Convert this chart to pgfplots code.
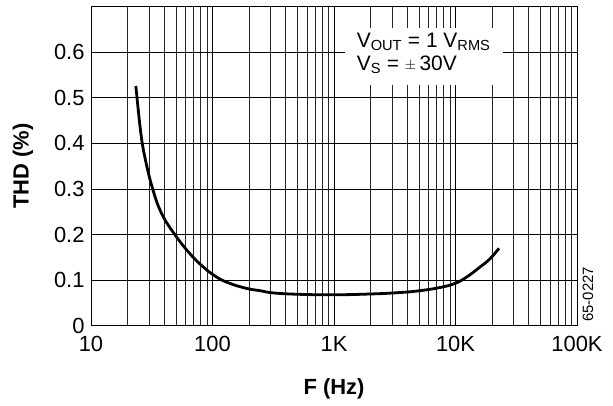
\documentclass[border=0pt]{standalone}
\usepackage{pgfplots}
\pgfplotsset{compat=1.18}
\usepackage{fontspec}
\setmainfont{Liberation Sans}

\begin{document}
\begin{tikzpicture}
\useasboundingbox (0,0) rectangle (613bp,406bp);
\begin{axis}[
    scale only axis,
    width=486bp, height=319.1bp,
    at={(91bp,80.2bp)}, anchor=south west,
    xmode=log,
    xmin=10, xmax=100000,
    ymin=0, ymax=0.7,
    xtick={10,100,1000,10000,100000},
    xticklabels={10,100,1K,10K,100K},
    ytick={0,0.1,0.2,0.3,0.4,0.5,0.6},
    yticklabels={0,0.1,0.2,0.3,0.4,0.5,0.6},
    major tick length=0pt, minor tick length=0pt,
    grid=both,
    major grid style={black, line width=0.8bp},
    minor grid style={black!85, line width=0.8bp},
    axis line style={black, line width=1bp},
    tick label style={font=\fontsize{22}{24}\selectfont},
    /pgf/number format/assume math mode=true,
    xticklabel style={yshift=-7bp},
    yticklabel style={xshift=-3bp},
    xlabel={\bfseries F (Hz)},
    ylabel={\bfseries THD (\%)},
    label style={font=\fontsize{22}{24}\selectfont},
    xlabel style={yshift=-20bp},
    ylabel style={yshift=14bp},
    clip=false,
]

% THD vs frequency
\addplot[black, line width=2.8bp, smooth, tension=0.7] coordinates {
    (23.4,0.526) (25.6,0.427) (27.8,0.369) (32.2,0.300) (38.2,0.246)
    (49,0.200) (65.3,0.158) (84,0.129) (108,0.107) (139,0.093)
    (191,0.082) (246,0.077) (321,0.072) (525,0.069) (1018,0.068)
    (2100,0.070) (3490,0.073) (5100,0.077) (7450,0.084) (9900,0.093)
    (12360,0.107) (15920,0.129) (19230,0.147) (22800,0.170)
};

% conditions box
\node[fill=white, anchor=north west, minimum width=158bp, minimum height=57bp,
      inner sep=0pt] at (axis cs:1230,0.6546) {};
\node[anchor=west, align=left, font=\fontsize{21}{23}\selectfont,
      inner sep=0pt] at (axis cs:1535,0.597) {%
    V\textsubscript{OUT} = 1 V\textsubscript{RMS}\\
    V\textsubscript{S} = \raisebox{1bp}{$\scriptstyle\pm$}\,30V};

\node[rotate=90, font=\fontsize{15}{16}\selectfont] at (axis cs:123000,0.069) {65-0227};

\end{axis}
\end{tikzpicture}
\end{document}
